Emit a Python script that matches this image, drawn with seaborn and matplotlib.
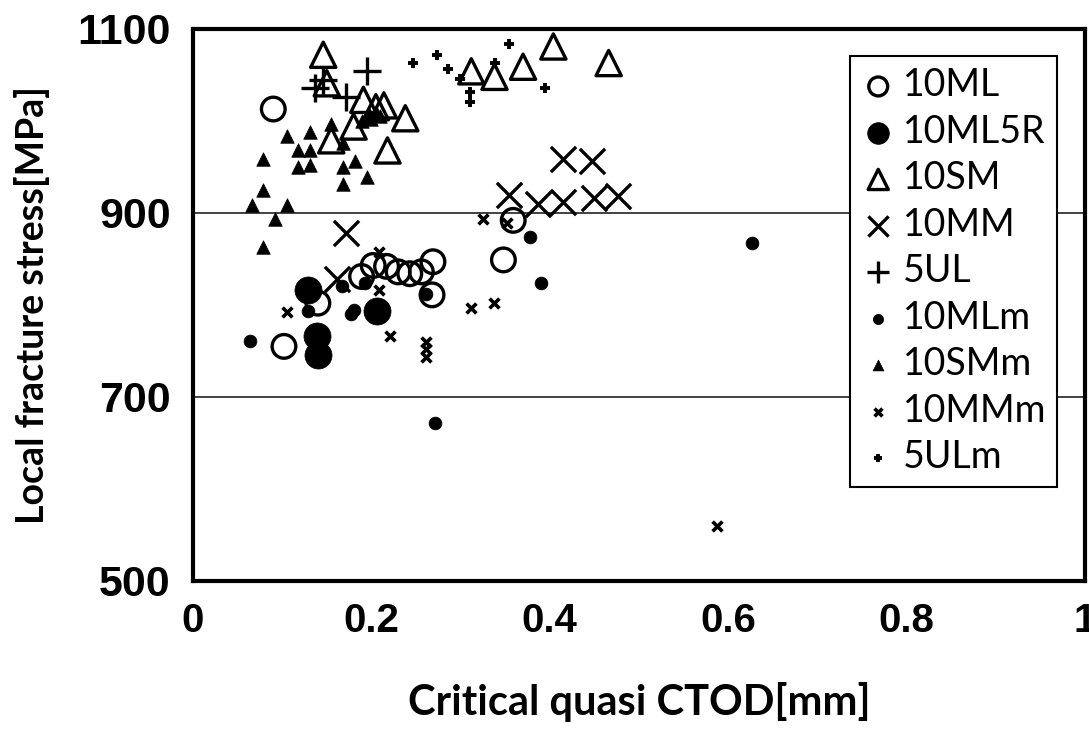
import matplotlib
matplotlib.use("Agg")
import matplotlib.pyplot as plt
import seaborn as sns
import pandas as pd
from matplotlib import font_manager

sns.set_style("white")
plt.rcParams["text.color"] = "black"
plt.rcParams["axes.labelcolor"] = "black"
plt.rcParams["xtick.color"] = "black"
plt.rcParams["ytick.color"] = "black"

# ---------------- data ----------------
ml_x = [0.090, 0.102, 0.140, 0.189, 0.202, 0.217, 0.230, 0.243, 0.256, 0.269, 0.268, 0.348, 0.359]
ml_y = [1013, 755, 802, 831, 843, 842, 836, 834, 836, 847, 811, 849, 892]

ml5r_x = [0.129, 0.139, 0.140, 0.206]
ml5r_y = [816, 766, 746, 793]

sm_x = [0.146, 0.150, 0.155, 0.180, 0.191, 0.205, 0.214, 0.218, 0.238, 0.312, 0.338, 0.370, 0.404, 0.466]
sm_y = [1072, 1041, 979, 994, 1023, 1015, 1017, 968, 1003, 1054, 1048, 1059, 1081, 1063]

mm_x = [0.161, 0.172, 0.354, 0.387, 0.415, 0.449, 0.477, 0.415, 0.447]
mm_y = [828, 878, 920, 910, 912, 916, 918, 959, 956]

ul_x = [0.137, 0.146, 0.172, 0.195]
ul_y = [1036, 1045, 1026, 1054]

mlm_x = [0.064, 0.129, 0.167, 0.177, 0.181, 0.193, 0.261, 0.271, 0.378, 0.390, 0.627]
mlm_y = [761, 793, 821, 790, 795, 824, 812, 672, 874, 824, 867]

smm_x = [0.066, 0.079, 0.079, 0.079, 0.092, 0.105, 0.105, 0.118, 0.118, 0.131, 0.131, 0.131,
         0.155, 0.168, 0.168, 0.168, 0.182, 0.195, 0.190, 0.197, 0.200, 0.205, 0.210]
smm_y = [909, 925, 959, 863, 894, 909, 984, 968, 950, 988, 968, 952,
         997, 976, 950, 932, 956, 939, 1000, 1008, 1002, 1010, 1005]

mmm_x = [0.105, 0.208, 0.208, 0.221, 0.261, 0.261, 0.261, 0.312, 0.325, 0.337, 0.352, 0.587]
mmm_y = [792, 858, 816, 766, 760, 752, 743, 797, 893, 802, 889, 560]

ulm_x = [0.247, 0.273, 0.286, 0.299, 0.311, 0.311, 0.339, 0.354, 0.395]
ulm_y = [1063, 1072, 1057, 1046, 1032, 1021, 1063, 1084, 1036]

series_names = ["10ML", "10ML5R", "10SM", "10MM", "5UL", "10MLm", "10SMm", "10MMm", "5ULm"]
series_data = [(ml_x, ml_y), (ml5r_x, ml5r_y), (sm_x, sm_y), (mm_x, mm_y), (ul_x, ul_y),
               (mlm_x, mlm_y), (smm_x, smm_y), (mmm_x, mmm_y), (ulm_x, ulm_y)]

x_ticks = [0, 0.2, 0.4, 0.6, 0.8, 1]
x_tick_labels = ["0", "0.2", "0.4", "0.6", "0.8", "1"]
y_ticks = [500, 700, 900, 1100]
y_tick_labels = ["500", "700", "900", "1100"]

# ---------------- styles ----------------
styles = {
    "10ML":   dict(marker="o", s=290, facecolor="none", edgecolor="black", linewidth=2.4),
    "10ML5R": dict(marker="o", s=380, color="black", edgecolor="black", linewidth=0.5),
    "10SM":   dict(marker="^", s=330, facecolor="none", edgecolor="black", linewidth=2.4),
    "10MM":   dict(marker="x", s=330, color="black", linewidth=2.4),
    "5UL":    dict(marker="+", s=380, color="black", linewidth=2.4),
    "10MLm":  dict(marker="o", s=85, color="black", edgecolor="black", linewidth=0.5),
    "10SMm":  dict(marker="^", s=95, color="black", edgecolor="black", linewidth=0.5),
    "10MMm":  dict(marker="x", s=50, color="black", linewidth=2.6),
    "5ULm":   dict(marker="+", s=60, color="black", linewidth=2.8),
}

avail = {f.name for f in font_manager.fontManager.ttflist}
label_font = "Lato" if "Lato" in avail else "DejaVu Sans"

fig = plt.figure(figsize=(10.89, 7.31), dpi=100)
ax = fig.add_axes([193 / 1089, 1 - 581 / 731, (1085 - 193) / 1089, (581 - 29) / 731])

for name, (xs, ys) in zip(series_names, series_data):
    df = pd.DataFrame({"x": xs, "y": ys})
    sns.scatterplot(data=df, x="x", y="y", ax=ax, label=name, zorder=3, **styles[name])

ax.set_xlim(0, 1)
ax.set_ylim(500, 1100)
ax.set_xticks(x_ticks)
ax.set_xticklabels(x_tick_labels, fontfamily="Liberation Sans", fontweight="bold", fontsize=29)
ax.set_yticks(y_ticks)
ax.set_yticklabels(y_tick_labels, fontfamily="Liberation Sans", fontweight="bold", fontsize=31)
ax.tick_params(axis="x", direction="in", length=10, width=2, pad=15, colors="black")
ax.tick_params(axis="y", direction="in", length=6, width=2, pad=16, colors="black")

for yv in [700, 900]:
    ax.axhline(yv, color="#333333", linewidth=1.3, zorder=1)

for sp in ax.spines.values():
    sp.set_linewidth(3)
    sp.set_color("black")

ax.set_xlabel("Critical quasi CTOD[mm]", fontfamily=label_font, fontweight="bold", fontsize=30,
              labelpad=30, color="black")
ax.set_ylabel("Local fracture stress[MPa]", fontfamily=label_font, fontweight="bold", fontsize=27,
              labelpad=20, color="black")

leg = ax.legend(loc="upper right", bbox_to_anchor=(0.969, 0.951), borderaxespad=0,
                frameon=True, fancybox=False, edgecolor="black", framealpha=1,
                prop={"family": label_font, "size": 27}, labelspacing=0.28,
                handletextpad=0.2, handlelength=0.9, borderpad=0.3, markerscale=0.8)
leg.get_frame().set_linewidth(1.5)
for t in leg.get_texts():
    t.set_color("black")

fig.savefig("out.png", dpi=100)
